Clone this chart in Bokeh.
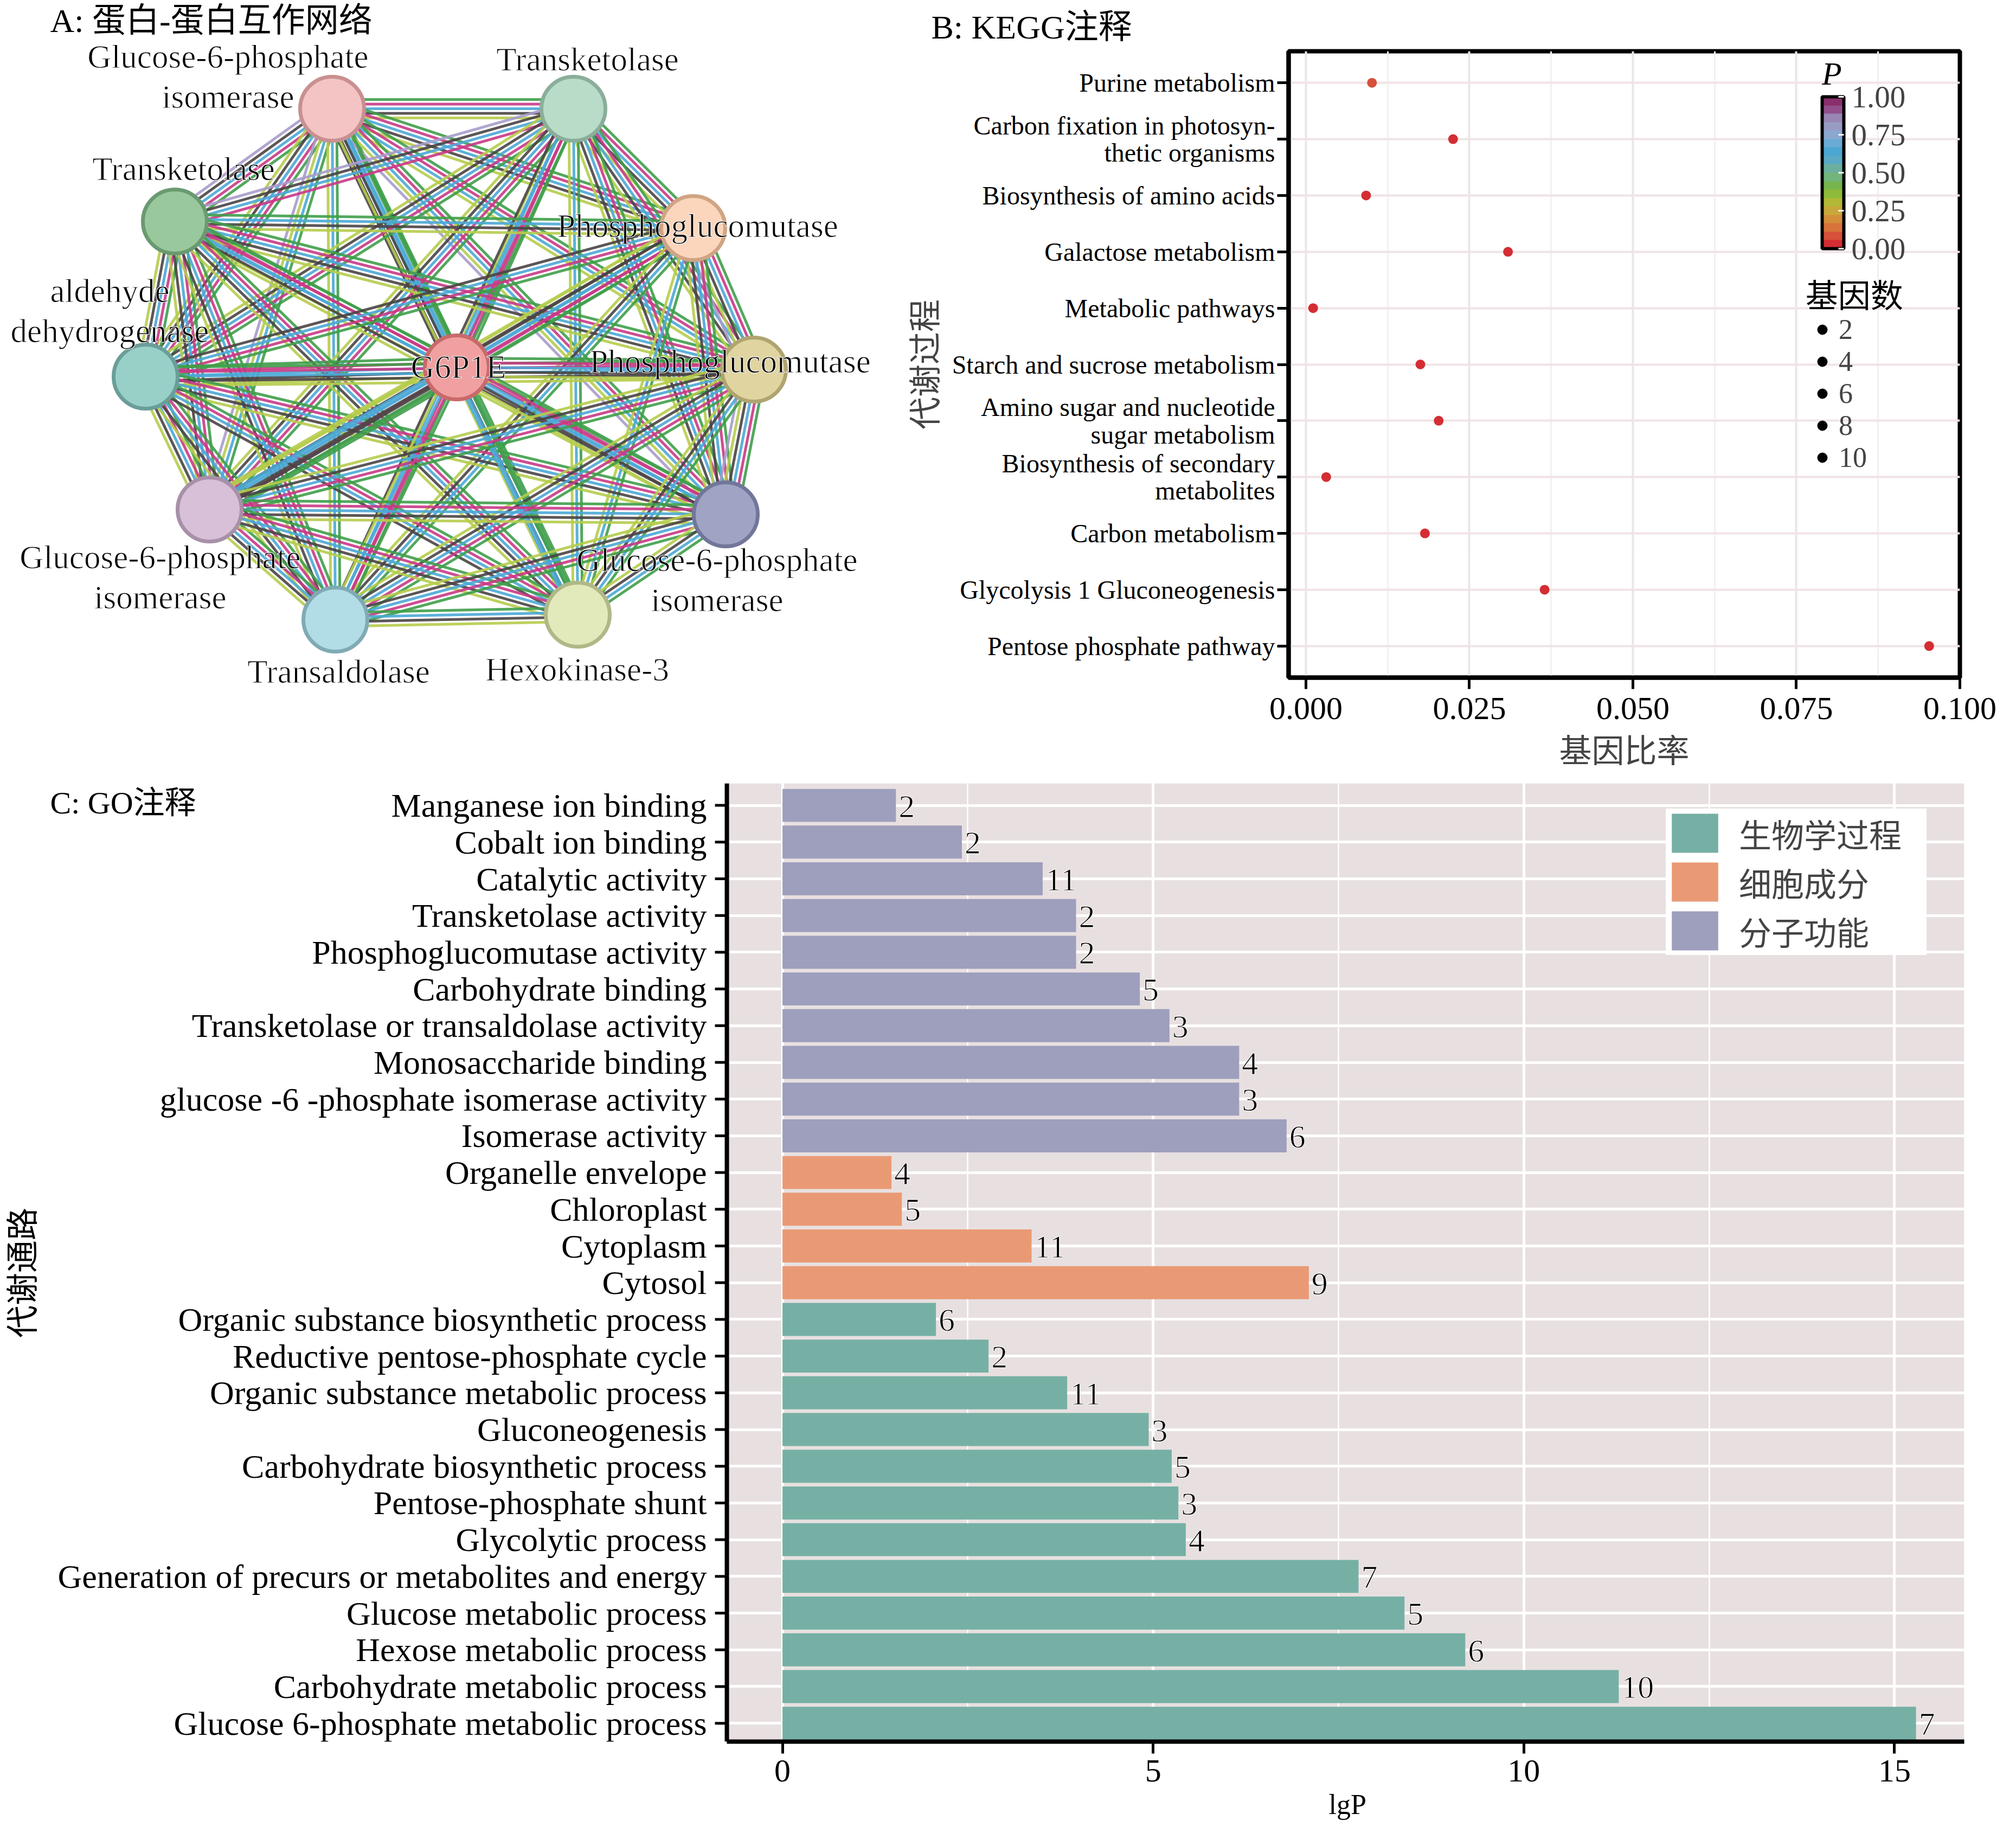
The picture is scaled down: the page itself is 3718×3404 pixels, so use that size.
import math
from bokeh.plotting import figure
from bokeh.models import (Range1d, FixedTicker, ColorBar, LinearColorMapper, Legend,
                          LegendItem, Label, ColumnDataSource, PrintfTickFormatter,
                          BoxAnnotation, Span, Title)
from bokeh.layouts import column, row
from bokeh.embed import file_html
from bokeh.resources import INLINE
from bokeh.core.properties import value

SERIF = "Liberation Serif, Noto Sans CJK SC"

# ---------------- Panel A data: protein-protein interaction network ----------------
node_names = ["Glucose-6-phosphate\nisomerase", "Transketolase", "Transketolase",
              "Phosphoglucomutase", "aldehyde\ndehydrogenase", "G6P1E",
              "Phosphoglucomutase", "Glucose-6-phosphate\nisomerase",
              "Glucose-6-phosphate\nisomerase", "Transaldolase", "Hexokinase-3"]
# layout coordinates of the network nodes
node_x = [620, 1065, 330, 1286, 276, 850, 1398, 394, 1346, 626, 1073]
node_y = [208, 208, 416, 428, 702, 685, 689, 947, 956, 1150, 1141]
# edges: (node a, node b, evidence channels)
edges = [
    (0, 1, "gmcky"), (0, 2, "gmckp"), (0, 3, "gmcky"), (0, 4, "gmcky"), (0, 5, "gck"),
    (0, 6, "gmcy"), (0, 7, "gcyp"), (0, 8, "gmcyp"), (0, 9, "gcy"), (0, 10, "gcky"),
    (1, 2, "mckp"), (1, 3, "gmcky"), (1, 4, "gmcky"), (1, 5, "gmcy"), (1, 6, "gmcky"),
    (1, 7, "gmcky"), (1, 8, "gmcky"), (1, 9, "gmck"), (1, 10, "gcy"),
    (2, 3, "gcky"), (2, 4, "gmcky"), (2, 5, "gmcy"), (2, 6, "gmcky"), (2, 7, "gmcky"),
    (2, 8, "gmcky"), (2, 9, "gmcky"), (2, 10, "gmcky"),
    (3, 4, "gmck"), (3, 5, "gmcky"), (3, 6, "gmckyp"), (3, 7, "gmcky"), (3, 8, "gmcky"),
    (3, 9, "gcky"), (3, 10, "gcy"),
    (4, 5, "gmcky"), (4, 6, "gmcky"), (4, 7, "gmcky"), (4, 8, "gmcky"), (4, 9, "gmcky"),
    (4, 10, "gmck"),
    (5, 6, "gmcky"), (5, 7, "gkcy"), (5, 8, "gmcky"), (5, 9, "gmcy"), (5, 10, "gc"),
    (6, 7, "gmcky"), (6, 8, "gmckyp"), (6, 9, "gmcky"), (6, 10, "gcky"),
    (7, 8, "gmcky"), (7, 9, "gmcky"), (7, 10, "gmcky"),
    (8, 9, "gmcky"), (8, 10, "gcky"),
    (9, 10, "gcky"),
]
strong_edges = [(0, 5), (5, 7), (5, 10)]

# ---------------- Panel B data: KEGG ----------------
kegg_terms = ["Purine metabolism", "Carbon fixation in photosyn-\nthetic organisms",
              "Biosynthesis of amino acids", "Galactose metabolism", "Metabolic pathways",
              "Starch and sucrose metabolism", "Amino sugar and nucleotide\nsugar metabolism",
              "Biosynthesis of secondary\nmetabolites", "Carbon metabolism",
              "Glycolysis 1 Gluconeogenesis", "Pentose phosphate pathway"]
kegg_ratio = [0.0101, 0.0225, 0.0092, 0.0309, 0.0011, 0.0175, 0.0203, 0.0031, 0.0182, 0.0365, 0.0953]
kegg_p = [0.07, 0.01, 0.01, 0.01, 0.005, 0.01, 0.01, 0.01, 0.01, 0.005, 0.002]
gene_levels = [2, 4, 6, 8, 10]
p_ticks = [0.0, 0.25, 0.5, 0.75, 1.0]
kegg_xticks = [0.0, 0.025, 0.05, 0.075, 0.1]
kegg_xminor = [0.0125, 0.0375, 0.0625, 0.0875]

# ---------------- Panel C data: GO ----------------
go_terms = ["Manganese ion binding", "Cobalt ion binding", "Catalytic activity",
            "Transketolase activity", "Phosphoglucomutase activity", "Carbohydrate binding",
            "Transketolase or transaldolase activity", "Monosaccharide binding",
            "glucose -6 -phosphate isomerase activity", "Isomerase activity",
            "Organelle envelope", "Chloroplast", "Cytoplasm", "Cytosol",
            "Organic substance biosynthetic process", "Reductive pentose-phosphate cycle",
            "Organic substance metabolic process", "Gluconeogenesis",
            "Carbohydrate biosynthetic process", "Pentose-phosphate shunt", "Glycolytic process",
            "Generation of precurs or metabolites and energy", "Glucose metabolic process",
            "Hexose metabolic process", "Carbohydrate metabolic process",
            "Glucose 6-phosphate metabolic process"]
go_lgp = [1.53, 2.42, 3.51, 3.96, 3.96, 4.82, 5.22, 6.16, 6.16, 6.80,
          1.47, 1.61, 3.36, 7.10, 2.07, 2.78, 3.84, 4.94, 5.25, 5.34, 5.44,
          7.77, 8.39, 9.21, 11.28, 15.29]
go_genes = [2, 2, 11, 2, 2, 5, 3, 4, 3, 6, 4, 5, 11, 9, 6, 2, 11, 3, 5, 3, 4, 7, 5, 6, 10, 7]
go_group = ["分子功能"] * 10 + ["细胞成分"] * 4 + ["生物学过程"] * 12
group_order = ["生物学过程", "细胞成分", "分子功能"]
go_xticks = [0, 5, 10, 15]
go_xminor = [2.5, 7.5, 12.5]

# ---------------- styles ----------------
EVID_COLORS = {"g": "#3f9e4a", "m": "#c93a86", "c": "#4ba8d6", "k": "#4a4444",
               "y": "#b6cc4c", "p": "#a99ccb"}
NODE_FILL = ["#f4c4c4", "#b9dcc9", "#98c89c", "#fbd6bc", "#98d0c8", "#f0a0a0",
             "#e0d4a0", "#d8c0d8", "#a0a4c4", "#b2dce6", "#e2e9bb"]
NODE_LINE = ["#c99090", "#8aae9a", "#6a9a70", "#d0a484", "#6a9e98", "#c86a6a",
             "#b0a470", "#a890a8", "#72769a", "#80aab4", "#b0b888"]
LABEL_DX = [-192, 26, 16, 8, -66, 3, -44, -91, -16, 6, -1]
LABEL_DY = [-59, -91, -97, -4, -121, -1, -15, 125, 121, 96, 101]
GROUP_COLORS = {"生物学过程": "#76b0a5", "细胞成分": "#e99a75", "分子功能": "#9e9fbd"}
P_PALETTE = ["#d42d33", "#d6503a", "#d9733c", "#d38f3a", "#c8a83a", "#b3b838", "#8fbb3a",
             "#76b54c", "#72b47c", "#6bb09e", "#5aaac6", "#4ba6d0", "#68acd6", "#8aa8d0",
             "#989cc4", "#9a86b4", "#924f8c", "#8a2e6c"]

TOP_H = 1444
TOTAL_W = 3700
TOTAL_H = 3388
A_W = 1660

# ================= Panel A =================
pA = figure(width=A_W, height=TOP_H, x_range=Range1d(8, 8 + A_W), y_range=Range1d(8 + TOP_H, 8),
            x_axis_type=None, y_axis_type=None, toolbar_location=None,
            output_backend="svg", min_border=0)
pA.grid.visible = False
pA.outline_line_color = None

xs, ys, cols, wids = [], [], [], []
for a, b, ev in edges:
    x1, y1, x2, y2 = node_x[a], node_y[a], node_x[b], node_y[b]
    L = math.hypot(x2 - x1, y2 - y1)
    nx, ny = -(y2 - y1) / L, (x2 - x1) / L
    strong = (a, b) in strong_edges
    sp = 13 if strong else 8.5
    w = 10 if strong else 5
    m = len(ev)
    for k, ch in enumerate(ev):
        off = (k - (m - 1) / 2) * sp
        xs.append([x1 + nx * off, x2 + nx * off])
        ys.append([y1 + ny * off, y2 + ny * off])
        cols.append(EVID_COLORS[ch])
        wids.append(w)
pA.multi_line(xs=xs, ys=ys, line_color=cols, line_width=wids, line_alpha=0.9)
pA.scatter(x=node_x, y=node_y, size=118, marker="circle", fill_color=NODE_FILL,
           line_color=NODE_LINE, line_width=7)
pA.text(x=[x + d for x, d in zip(node_x, LABEL_DX)], y=[y + d for y, d in zip(node_y, LABEL_DY)],
        text=node_names, text_align="center", text_baseline="middle",
        text_font=value(SERIF), text_font_size="61px", text_color="black",
        text_line_height=1.1, text_outline_color="white")
pA.add_layout(Label(x=100, y=45, text="A: 蛋白-蛋白互作网络", text_baseline="middle",
                    text_font=SERIF, text_font_size="62px", text_color="black"))

# ================= Panel B =================
n_k = len(kegg_terms)
kegg_pos = [n_k - 1 - i for i in range(n_k)]
mapper = LinearColorMapper(palette=P_PALETTE, low=0, high=1)
srcB = ColumnDataSource(dict(ratio=kegg_ratio, pos=kegg_pos, p=kegg_p))

B_W = TOTAL_W - A_W
pB = figure(width=B_W, height=TOP_H, x_range=Range1d(-0.00265, 0.1),
            y_range=Range1d(-0.56, n_k - 1 + 0.56), toolbar_location=None,
            output_backend="svg", min_border_left=716, min_border_right=86,
            min_border_top=94, min_border_bottom=TOP_H - 1249,
            title="B: KEGG注释")
pB.title.align = "left"
pB.title.offset = -659
pB.title.standoff = 22
pB.title.text_font = SERIF
pB.title.text_font_size = "62px"
pB.title.text_font_style = "normal"
pB.title.text_color = "black"

pB.scatter(x="ratio", y="pos", source=srcB, size=18, marker="circle",
           fill_color={"field": "p", "transform": mapper}, line_color=None)
pB.xaxis.ticker = FixedTicker(ticks=kegg_xticks, minor_ticks=kegg_xminor)
pB.xaxis.formatter = PrintfTickFormatter(format="%.3f")
pB.yaxis.ticker = FixedTicker(ticks=kegg_pos)
pB.yaxis.major_label_overrides = {pos: t for pos, t in zip(kegg_pos, kegg_terms)}
for ax in (pB.xaxis[0], pB.yaxis[0]):
    ax.axis_line_width = 8
    ax.axis_line_color = "black"
    ax.major_tick_in = 0
    ax.major_tick_out = 21
    ax.major_tick_line_width = 5
    ax.minor_tick_line_color = None
    ax.major_label_text_font = SERIF
    ax.axis_label_text_font = SERIF
    ax.axis_label_text_font_style = "normal"
    ax.axis_label_text_font_size = "60px"
    ax.major_label_text_color = "black"
pB.xaxis.major_label_text_font_size = "60px"
pB.xaxis.major_label_standoff = 16
pB.xaxis.axis_label = "基因比率"
pB.xaxis.axis_label_standoff = 24
pB.yaxis.major_label_text_font_size = "48px"
pB.yaxis.major_label_text_line_height = 0.95
pB.yaxis.major_label_standoff = 4
pB.yaxis.axis_label = "代谢过程"
pB.yaxis.axis_label_standoff = 12
pB.xgrid.grid_line_color = "#ebe6e6"
pB.xgrid.grid_line_width = 4
pB.xgrid.minor_grid_line_color = "#f4f0f0"
pB.xgrid.minor_grid_line_width = 3
pB.ygrid.grid_line_color = "#f0e3e6"
pB.ygrid.grid_line_width = 4
pB.outline_line_color = "black"
pB.outline_line_width = 8
pB.background_fill_color = "white"

cbar = ColorBar(color_mapper=mapper, location=(984, 791), width=40, height=280,
                padding=0, margin=0, major_label_text_font=SERIF,
                major_label_text_font_size="57px", label_standoff=14,
                ticker=FixedTicker(ticks=p_ticks), formatter=PrintfTickFormatter(format="%.2f"),
                major_tick_line_color="white", major_tick_line_width=3, major_tick_in=10,
                major_tick_out=0, bar_line_color="black", bar_line_width=6,
                background_fill_alpha=0, border_line_color=None)
pB.add_layout(cbar)
pB.add_layout(Label(x=0.0789, y=n_k - 1 + 0.164, text="P", text_baseline="middle",
                    text_font=SERIF, text_font_size="60px", text_font_style="italic",
                    text_color="black"))
pB.add_layout(Label(x=0.0764, y=n_k - 1 - 3.80, text="基因数", text_baseline="middle",
                    text_font=SERIF, text_font_size="60px", text_color="black"))

# legend proxies for gene counts (placed far outside the visible x range)
dummies = [pB.scatter(x=[lvl], y=[lvl], marker="circle", color="black", size=18) for lvl in gene_levels]
gene_legend = Legend(items=[LegendItem(label=str(l), renderers=[r]) for l, r in zip(gene_levels, dummies)],
                     location=(962, 376),
                     label_text_font=SERIF, label_text_font_size="52px",
                     glyph_width=45, glyph_height=45, label_standoff=8, spacing=0,
                     padding=0, margin=0, background_fill_alpha=0, border_line_color=None)
pB.add_layout(gene_legend)

# ================= Panel C =================
# the frame covers the whole panel width; the plotting area (lgP >= -0.75) is painted
# and the category axis is drawn at its left edge
n_g = len(go_terms)
go_pos = [n_g - 1 - i for i in range(n_g)]
C_H = TOTAL_H - TOP_H
C_FRAME_BOTTOM = 3211 - TOP_H        # frame bottom in pC canvas pixels
PX_PER_UNIT = 136.72                 # horizontal scale of panel C
AREA_LEFT = -0.75                    # left edge of the painted plotting area
X_START = AREA_LEFT - 1340 / PX_PER_UNIT
X_END = 15.94
Y_START, Y_END = -0.5, n_g - 1 + 0.6
TICK_LEN = 22 / PX_PER_UNIT

pC = figure(width=TOTAL_W, height=C_H, x_range=Range1d(X_START, X_END),
            y_range=Range1d(Y_START, Y_END), toolbar_location=None, y_axis_location=None,
            output_backend="svg", min_border_left=0, min_border_right=78,
            min_border_top=0, min_border_bottom=C_H - C_FRAME_BOTTOM)
pC.background_fill_color = "white"
pC.outline_line_color = None
pC.add_layout(BoxAnnotation(left=AREA_LEFT, fill_color="#e8e0e0", fill_alpha=1.0,
                            line_color=None, level="image"))

bar_renderers = {}
for g in group_order:
    idx = [i for i, gg in enumerate(go_group) if gg == g]
    src = ColumnDataSource(dict(pos=[go_pos[i] for i in idx], lgp=[go_lgp[i] for i in idx]))
    bar_renderers[g] = pC.hbar(y="pos", left=0, right="lgp", height=0.9, source=src,
                               fill_color=GROUP_COLORS[g], line_color=None)
srcT = ColumnDataSource(dict(pos=go_pos, lgp=go_lgp, lab=[str(v) for v in go_genes],
                             edge=[AREA_LEFT] * n_g, tick_end=[AREA_LEFT - TICK_LEN] * n_g,
                             term=go_terms))
pC.text(x="lgp", y="pos", text="lab", source=srcT, x_offset=5, y_offset=2,
        text_align="left", text_baseline="middle", text_font=value(SERIF),
        text_font_size="60px", text_color="black", text_outline_color="white")

# category axis: line, ticks and labels
pC.add_layout(Span(location=AREA_LEFT, dimension="height", line_color="black", line_width=8))
pC.segment(x0="edge", x1="tick_end", y0="pos", y1="pos", source=srcT, line_color="black",
           line_width=5)
pC.text(x="edge", y="pos", text="term", source=srcT, x_offset=-37, text_align="right",
        text_baseline="middle", text_font=value(SERIF), text_font_size="62px",
        text_color="black")
pC.text(x=[AREA_LEFT - 1298 / PX_PER_UNIT], y=[(Y_START + Y_END) / 2 - 0.28], text=["代谢通路"],
        angle=math.pi / 2, text_align="center", text_baseline="middle",
        text_font=value(SERIF), text_font_size="60px", text_color="black")
pC.text(x=[AREA_LEFT - 1248 / PX_PER_UNIT], y=[n_g - 1 + 0.07], text=["C: GO注释"],
        text_align="left", text_baseline="middle", text_font=value(SERIF),
        text_font_size="58px", text_color="black")

pC.xaxis.ticker = FixedTicker(ticks=go_xticks, minor_ticks=go_xminor)
pC.xaxis.bounds = (AREA_LEFT, X_END)
ax = pC.xaxis[0]
ax.axis_line_width = 8
ax.axis_line_color = "black"
ax.major_tick_in = 0
ax.major_tick_out = 22
ax.major_tick_line_width = 5
ax.minor_tick_line_color = None
ax.major_label_text_font = SERIF
ax.major_label_text_font_size = "60px"
ax.major_label_text_color = "black"
ax.major_label_standoff = 12
pC.add_layout(Title(text="lgP", align="left", offset=2450, standoff=18, text_font=SERIF,
                    text_font_size="52px", text_font_style="normal", text_color="black"),
              "below")

pC.xgrid.grid_line_color = "white"
pC.xgrid.grid_line_width = 5
pC.xgrid.minor_grid_line_color = "white"
pC.xgrid.minor_grid_line_width = 2.5
pC.ygrid.ticker = FixedTicker(ticks=go_pos)
pC.ygrid.grid_line_color = "white"
pC.ygrid.grid_line_width = 5

go_legend = Legend(items=[LegendItem(label=g, renderers=[bar_renderers[g]]) for g in group_order],
                   location=(3072, 1450), glyph_width=107, glyph_height=90, label_standoff=28,
                   spacing=0, padding=40, margin=0, label_text_font=SERIF,
                   label_text_font_size="60px", label_width=346, background_fill_color="white",
                   background_fill_alpha=1.0, border_line_color=None)
pC.add_layout(go_legend)

layout = column(row(column(pA), pB), pC)
open("out.html", "w").write(file_html(layout, INLINE))
